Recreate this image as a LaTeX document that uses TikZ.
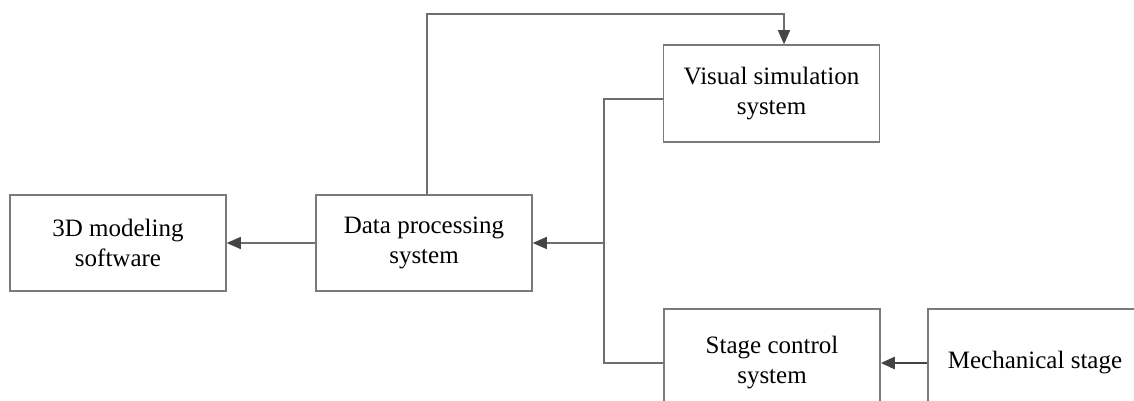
\documentclass[tikz,border=0pt]{standalone}
\usepackage{fontspec}
\setmainfont{Liberation Serif}
\usetikzlibrary{arrows.meta}
\definecolor{boxgray}{HTML}{7A7A7A}
\definecolor{linegray}{HTML}{6E6E6E}
\definecolor{tipgray}{HTML}{444444}
\begin{document}
\begin{tikzpicture}[x=1pt,y=-1pt,
  blk/.style={draw=boxgray, line width=1.5pt, minimum width=216pt, minimum height=96pt,
    inner sep=0pt, align=center, font=\fontsize{25}{30}\selectfont, text=black},
  conn/.style={draw=linegray, line width=1.3pt},
  arr/.style={conn, -{Triangle[length=14pt,width=12pt,color=tipgray]}},
  thickarr/.style={draw=tipgray, line width=2.6pt, -{Triangle[length=14pt,width=12pt,color=tipgray]}}]
\path[use as bounding box, fill=white] (0,0) rectangle (1134,401);
\begin{scope}
\clip (0,0) rectangle (1134,401);
\node[blk] (sw) at (118,243) {3D modeling\\software};
\node[blk] (data) at (424,243) {Data processing\\system};
\node[blk, minimum height=97pt] (vis) at (771.5,93.5) {Visual simulation\\system};
\node[blk, minimum height=108pt] (stage) at (772,363) {Stage control\\system};
\node[blk, minimum width=214pt, minimum height=108pt] (mech) at (1035,363) {Mechanical stage};
\coordinate (j) at (604,243);
\draw[arr] (data.west) -- (sw.east);
\draw[arr] (j) -- (data.east);
\draw[arr] ([xshift=3pt]data.north) |- (600,14) -| ([xshift=12.5pt]vis.north);
\draw[conn] ([yshift=-5.5pt]vis.west) -| (j) |- (stage.west);
\draw[thickarr] (mech.west) -- (stage.east);
\end{scope}
\end{tikzpicture}
\end{document}
